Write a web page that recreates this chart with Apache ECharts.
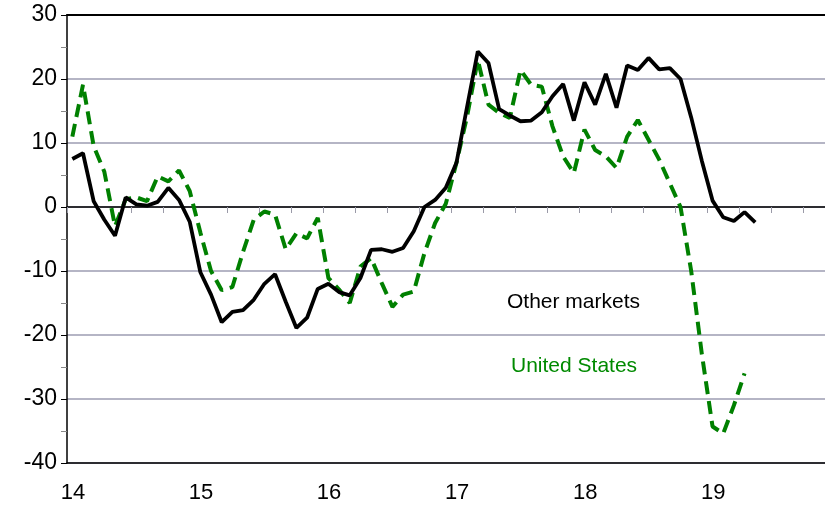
<!DOCTYPE html>
<html>
<head>
<meta charset="utf-8">
<script src="https://cdn.jsdelivr.net/npm/echarts@6/dist/echarts.min.js"></script>
<style>
    html, body { margin: 0; padding: 0; background: #fff; }
    #main { width: 825px; height: 506px; }
</style>
</head>
<body>
<div id="main"></div>
<script>
// monthly, Jan 2014 onwards (x axis in years, "14" = 2014)
let startYear = 14;
let yearTicks = ["14", "15", "16", "17", "18", "19"];

let otherMarkets = [
    7.5, 8.4, 0.9, -2.0, -4.5, 1.5, 0.4, 0.2, 0.8, 3.0, 1.1, -2.3,
    -10.2, -13.7, -18.0, -16.4, -16.1, -14.5, -12.0, -10.5, -14.8, -18.9, -17.3, -12.8,
    -12.0, -13.3, -13.8, -11.1, -6.7, -6.6, -7.0, -6.4, -3.8, 0.0, 1.1, 3.0,
    6.9, 15.7, 24.3, 22.5, 15.3, 14.3, 13.4, 13.5, 14.8, 17.3, 19.2, 13.5,
    19.5, 16.0, 20.8, 15.5, 22.1, 21.4, 23.3, 21.5, 21.7, 20.0, 14.0, 7.2,
    1.0, -1.6, -2.2, -0.8, -2.4
];

let unitedStates = [
    11.0, 19.1, 9.5, 5.5, -3.0, 1.2, 1.5, 0.9, 4.8, 4.0, 5.7, 2.5,
    -4.0, -10.0, -13.0, -12.5, -7.0, -2.0, -0.7, -1.2, -6.6, -4.1, -4.9, -1.7,
    -11.1, -12.9, -15.0, -9.3, -8.0, -11.9, -15.6, -13.7, -13.2, -7.2, -2.5, 0.5,
    6.9, 14.2, 23.0, 16.0, 14.7, 13.9, 21.4, 19.1, 18.8, 12.6, 7.9, 5.3,
    12.1, 8.9, 7.9, 6.1, 11.0, 13.6, 10.5, 7.4, 3.7, 0.0, -10.0, -23.0,
    -34.3, -35.4, -31.0, -26.0
];

let yTicks = [-40, -30, -20, -10, 0, 10, 20, 30];

// put each monthly value in the middle of its month
function toPoints(values) {
    let pts = [];
    for (let i = 0; i < values.length; i = i + 1) {
        pts.push([startYear + (i + 0.5) / 12, values[i]]);
    }
    return pts;
}

function drawChart() {
    let myChart = echarts.init(document.getElementById("main"));
    let font = "Liberation Sans, Arial, sans-serif";
    // the plot runs off the right edge of the picture, a little short of 2020
    let xMax = 19.92;

    let option = {
        animation: false,
        grid: {
            left: 67,
            right: 0,
            top: 15,
            bottom: 43
        },
        xAxis: [
            {
                type: "value",
                min: 14,
                max: xMax,
                interval: 1,
                position: "bottom",
                axisLine: { show: true, onZero: false, lineStyle: { color: "#000", width: 1.5 } },
                axisTick: { show: false },
                splitLine: { show: false },
                axisLabel: {
                    fontFamily: font,
                    fontSize: 22,
                    color: "#000",
                    margin: 19,
                    padding: [0, 0, 0, 12],
                    showMaxLabel: false,
                    formatter: function (v) {
                        let k = Math.round(v) - startYear;
                        return yearTicks[k] || "";
                    }
                }
            },
            {
                type: "value",
                min: 14,
                max: xMax,
                interval: 0.25,
                position: "bottom",
                axisLine: { show: true, onZero: true, lineStyle: { color: "#000", width: 1.5 } },
                axisTick: { show: true, length: 6, lineStyle: { color: "#9a9aa8", width: 1 } },
                axisLabel: { show: false },
                splitLine: { show: false }
            },
            {
                type: "value",
                min: 14,
                max: xMax,
                position: "top",
                axisLine: { show: true, onZero: false, lineStyle: { color: "#000", width: 2 } },
                axisTick: { show: false },
                axisLabel: { show: false },
                splitLine: { show: false }
            }
        ],
        yAxis: {
            type: "value",
            min: yTicks[0],
            max: yTicks[yTicks.length - 1],
            interval: 10,
            axisLine: { show: true, lineStyle: { color: "#000", width: 1.5 } },
            axisTick: { show: true, length: 6, lineStyle: { color: "#000" } },
            minorTick: { show: true, splitNumber: 2, length: 6, lineStyle: { color: "#888" } },
            splitLine: { show: true, lineStyle: { color: "#9d9db2", width: 1.5 } },
            axisLabel: {
                fontFamily: font,
                fontSize: 23,
                color: "#000",
                margin: 10
            }
        },
        graphic: [
            {
                type: "text",
                left: 507,
                top: 292,
                style: { text: "Other markets", fill: "#000", font: "21px " + font }
            },
            {
                type: "text",
                left: 511,
                top: 356,
                style: { text: "United States", fill: "#008a00", font: "21px " + font }
            }
        ],
        series: [
            {
                name: "United States",
                type: "line",
                xAxisIndex: 1,
                data: toPoints(unitedStates),
                showSymbol: false,
                lineStyle: { color: "#008000", width: 4, type: [13, 7] },
                z: 3
            },
            {
                name: "Other markets",
                type: "line",
                xAxisIndex: 1,
                data: toPoints(otherMarkets),
                showSymbol: false,
                lineStyle: { color: "#000", width: 3.8 },
                z: 4
            }
        ]
    };

    myChart.setOption(option);
}

drawChart();
</script>
</body>
</html>
